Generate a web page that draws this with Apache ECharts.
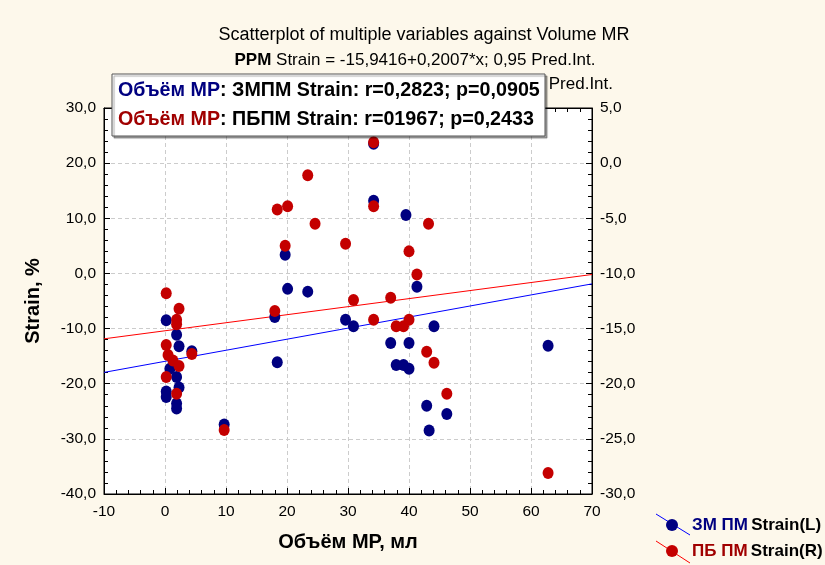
<!DOCTYPE html>
<html><head><meta charset="utf-8">
<script src="https://cdn.jsdelivr.net/npm/echarts@6/dist/echarts.min.js"></script>
<style>html,body{margin:0;padding:0;background:#fdf8eb}#c{width:825px;height:565px}</style>
</head><body><div id="c"></div>
<script>
// Blue series: ЗМ ПМ Strain (left axis)
var blueX = [0.2,1.9,2.3,4.4,0.8,1.9,2.3,0.2,0.2,1.9,1.9,9.7,19.7,20.1,23.4,18.0,18.4,29.6,30.9,34.2,34.2,39.5,41.3,44.1,37.0,40.0,37.9,39.1,40.0,42.9,46.2,43.3,62.8];
var blueY = [-8.5,-11.1,-13.2,-14.1,-17.3,-18.8,-20.7,-21.4,-22.4,-23.6,-24.5,-27.4,3.4,-2.8,-3.3,-7.9,-16.1,-8.4,-9.6,23.5,13.2,10.6,-2.4,-9.6,-12.6,-12.6,-16.6,-16.6,-17.3,-24.0,-25.5,-28.5,-13.1];
// Red series: ПБ ПМ Strain (right axis)
var redX = [0.2,2.3,1.9,1.9,0.2,0.5,1.3,2.3,4.4,0.2,1.9,9.7,23.4,18.4,20.1,24.6,19.7,18.0,29.6,30.9,34.2,34.2,34.2,43.2,40.0,41.3,37.0,37.9,39.1,40.0,42.9,44.1,46.2,62.8];
var redY = [-11.8,-13.2,-14.2,-14.6,-16.5,-17.4,-17.9,-18.4,-17.3,-19.4,-20.9,-24.2,-1.1,-4.2,-3.9,-5.5,-7.5,-13.4,-7.3,-12.4,-14.2,1.9,-3.9,-5.5,-8.0,-10.1,-12.2,-14.8,-14.8,-14.2,-17.1,-18.1,-20.9,-28.1];
// regression coefficients [intercept, slope]
var regBlue = [-15.9416, 0.2007];
var regRed = [-15.2, 0.0729];
var xTicks = [-10, 70, 10];
var yLeftTicks = [-40, 30, 10];
var yRightTicks = [-30, 5, 5];

function pts(xs, ys){ return xs.map(function(x,i){return [x, ys[i]];}); }
function reg(c){ return [xTicks[0], xTicks[1]].map(function(x){return [x, c[0]+c[1]*x];}); }
function fmt(v){ return v.toFixed(1).replace('.', ','); }

var FF = "'Liberation Sans', Arial, sans-serif";
var chart = echarts.init(document.getElementById('c'));
var axisCommon = {
  axisLine:{show:true, onZero:false, lineStyle:{color:'#000', width:1}},
  axisTick:{show:true, inside:true, length:6, lineStyle:{color:'#000'}},
  minorTick:{show:true, splitNumber:5, length:4, lineStyle:{color:'#000'}},
  axisLabel:{color:'#000', fontSize:15.5, fontFamily:FF, formatter:fmt}
};
chart.setOption({
  backgroundColor:'#fdf8eb',
  animation:false,
  grid:{left:104, right:233, top:108, bottom:71, show:true, backgroundColor:'#fff', borderColor:'#000', borderWidth:1},
  xAxis:[
    Object.assign({}, axisCommon, {type:'value', min:xTicks[0], max:xTicks[1], interval:xTicks[2],
      axisLabel:{color:'#000', fontSize:15.5, fontFamily:FF, margin:10},
      name:'Объём МР, мл', nameLocation:'middle', nameGap:38,
      nameTextStyle:{fontSize:20, fontWeight:'bold', fontFamily:FF, color:'#000'},
      splitLine:{show:true, lineStyle:{type:[4,3], color:'#cccccc'}}}),
    Object.assign({}, axisCommon, {type:'value', position:'top', min:xTicks[0], max:xTicks[1], interval:xTicks[2],
      axisLabel:{show:false}, splitLine:{show:false}})
  ],
  yAxis:[
    Object.assign({}, axisCommon, {type:'value', min:yLeftTicks[0], max:yLeftTicks[1], interval:yLeftTicks[2],
      name:'Strain, %', nameLocation:'middle', nameGap:61, nameRotate:90,
      nameTextStyle:{fontSize:20, fontWeight:'bold', fontFamily:FF, color:'#000'},
      splitLine:{show:true, lineStyle:{type:[4,3], color:'#cccccc'}}}),
    Object.assign({}, axisCommon, {type:'value', position:'right', min:yRightTicks[0], max:yRightTicks[1], interval:yRightTicks[2],
      splitLine:{show:false}})
  ],
  series:[
    {type:'line', data:reg(regBlue), xAxisIndex:0, yAxisIndex:0, symbol:'none', lineStyle:{color:'#0000ff', width:1}, z:2},
    {type:'line', data:reg(regRed), xAxisIndex:0, yAxisIndex:1, symbol:'none', lineStyle:{color:'#ff0000', width:1}, z:2},
    {type:'scatter', data:pts(blueX, blueY), xAxisIndex:0, yAxisIndex:0, symbol:'circle', symbolSize:[11,12], itemStyle:{color:'#000080', opacity:1}, z:3},
    {type:'scatter', data:pts(redX, redY), xAxisIndex:0, yAxisIndex:1, symbol:'circle', symbolSize:[11,12], itemStyle:{color:'#c40000', opacity:1}, z:4}
  ],
  graphic:[
    {type:'text', z:10, style:{text:'Scatterplot of multiple variables against Volume MR', x:424, y:35, align:'center', verticalAlign:'middle', font:'18px '+FF, fill:'#000'}},
    {type:'text', z:10, style:{text:'{b|PPM} Strain = -15,9416+0,2007*x; 0,95 Pred.Int.', x:415, y:60, align:'center', verticalAlign:'middle', font:'17px '+FF, fill:'#000', rich:{b:{fontWeight:'bold', fontSize:17, fontFamily:FF, fill:'#000'}}}},
    {type:'text', z:10, style:{text:'ПБПМ Strain = -15,2+0,0729*x; 0,95 Pred.Int.', x:613, y:84, align:'right', verticalAlign:'middle', font:'17px '+FF, fill:'#000'}},
    {type:'rect', z:20, shape:{x:112, y:74, width:433, height:62}, style:{fill:'#fff', stroke:'#555', lineWidth:1, shadowColor:'rgba(0,0,0,0.35)', shadowOffsetX:2, shadowOffsetY:2, shadowBlur:1}},
    {type:'text', z:21, style:{text:'{a|Объём МР}{b|: ЗМПМ Strain: r=0,2823; p=0,0905}', x:118, y:91, verticalAlign:'middle',
      rich:{a:{fontSize:19.7, fontWeight:'bold', fontFamily:FF, fill:'#000080'}, b:{fontSize:19.7, fontWeight:'bold', fontFamily:FF, fill:'#000'}}}},
    {type:'text', z:21, style:{text:'{a|Объём МР}{b|: ПБПМ Strain: r=01967; p=0,2433}', x:118, y:120, verticalAlign:'middle',
      rich:{a:{fontSize:19.7, fontWeight:'bold', fontFamily:FF, fill:'#a00000'}, b:{fontSize:19.7, fontWeight:'bold', fontFamily:FF, fill:'#000'}}}},
    {type:'line', z:10, shape:{x1:656, y1:514, x2:690, y2:535}, style:{stroke:'#0000ff', lineWidth:1}},
    {type:'circle', z:11, shape:{cx:672, cy:525, r:6}, style:{fill:'#000080'}},
    {type:'text', z:10, style:{text:'{a|ЗМ ПМ} {b|Strain(L)}', x:692, y:525, verticalAlign:'middle',
      rich:{a:{fontSize:17, fontWeight:'bold', fontFamily:FF, fill:'#000080'}, b:{fontSize:17, fontWeight:'bold', fontFamily:FF, fill:'#000'}}}},
    {type:'line', z:10, shape:{x1:656, y1:541, x2:690, y2:563}, style:{stroke:'#ff0000', lineWidth:1}},
    {type:'circle', z:11, shape:{cx:672, cy:551, r:6}, style:{fill:'#c40000'}},
    {type:'text', z:10, style:{text:'{a|ПБ ПМ} {b|Strain(R)}', x:692, y:551, verticalAlign:'middle',
      rich:{a:{fontSize:17, fontWeight:'bold', fontFamily:FF, fill:'#a00000'}, b:{fontSize:17, fontWeight:'bold', fontFamily:FF, fill:'#000'}}}}
  ]
});
</script></body></html>
